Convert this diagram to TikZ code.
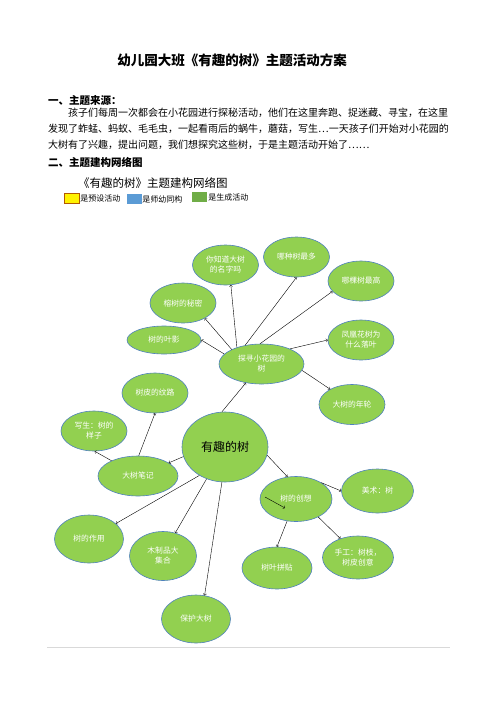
\documentclass[tikz,border=0pt]{standalone}
\usepackage{fontspec}
\setmainfont{Noto Sans CJK SC}
\usepackage{xcolor}
\usetikzlibrary{calc,shapes.geometric}
\definecolor{leafgreen}{HTML}{92D050}
\definecolor{rimblue}{HTML}{4F81BD}
\definecolor{keyblue}{HTML}{5B9BD5}
\definecolor{keygreen}{HTML}{70AD47}
\begin{document}
\begin{tikzpicture}[x=1pt,y=-1pt]
        \useasboundingbox (0,0) rectangle (496,702);
        \tikzstyle{every node}=[inner sep=0pt]
        \tikzstyle{bub}=[draw=rimblue,fill=leafgreen,ellipse,line width=0.6pt,text=white,align=center,font=\fontsize{7.8}{10}\selectfont]
        \tikzstyle{line}=[anchor=west,font=\fontsize{10}{12}\selectfont]
        \tikzstyle{head}=[anchor=west,font=\fontsize{10.5}{12}\selectfont\bfseries]
        \tikzstyle{key}=[anchor=west,font=\fontsize{8}{10}\selectfont]

        % page text
        \node[font=\fontsize{13.5}{16}\selectfont\bfseries] (0) at (232,60) {幼儿园大班《有趣的树》主题活动方案};
        \node[head] (h1) at (48,100) {一、主题来源：};
        \node[line] (p1) at (68,113) {孩子们每周一次都会在小花园进行探秘活动，他们在这里奔跑、捉迷藏、寻宝，在这里};
        \node[line] (p2) at (48,129) {发现了蚱蜢、蚂蚁、毛毛虫，一起看雨后的蜗牛，蘑菇，写生…一天孩子们开始对小花园的};
        \node[line] (p3) at (48,145) {大树有了兴趣，提出问题，我们想探究这些树，于是主题活动开始了……};
        \node[head] (h2) at (48,162) {二、主题建构网络图};
        \node[anchor=west,font=\fontsize{11.5}{14}\selectfont] (sub) at (78,183) {《有趣的树》主题建构网络图};

        % legend
        \node[draw=orange!70!black,fill=yellow,minimum width=15,minimum height=10] (k1) at (71.5,198) {};
        \node[key] (k1t) at ($(k1.east)+(1,0)$) {是预设活动};
        \node[fill=keyblue,minimum width=15,minimum height=10] (k2) at (134.5,199) {};
        \node[key] (k2t) at ($(k2.east)+(0,0)$) {是师幼同构};
        \node[fill=keygreen,minimum width=15,minimum height=10] (k3) at (199.5,197) {};
        \node[key] (k3t) at ($(k3.east)+(1,0)$) {是生成活动};

        % bubbles
        \node[bub,minimum width=86,minimum height=70,text=black,font=\fontsize{12}{14}\selectfont] (1) at (225,447) {有趣的树};
        \node[bub,minimum width=85,minimum height=40] (2) at (261.5,364) {探寻小花园的\\树};
        \node[bub,minimum width=66,minimum height=40] (3) at (225.5,265) {你知道大树\\的名字吗};
        \node[bub,minimum width=66,minimum height=40] (4) at (296.5,257) {哪种树最多};
        \node[bub,minimum width=66,minimum height=40] (5) at (361,281) {哪棵树最高};
        \node[bub,minimum width=66,minimum height=40] (6) at (361,340) {凤凰花树为\\什么落叶};
        \node[bub,minimum width=66,minimum height=40] (7) at (183,303) {榕树的秘密};
        \node[bub,minimum width=74,minimum height=28] (8) at (164,340) {树的叶影};
        \node[bub,minimum width=66,minimum height=40] (9) at (352,404.5) {大树的年轮};
        \node[bub,minimum width=66,minimum height=40] (10) at (155,393) {树皮的纹路};
        \node[bub,minimum width=66,minimum height=40] (11) at (94,431) {写生：树的\\样子};
        \node[bub,minimum width=80,minimum height=40] (12) at (138,476) {大树笔记};
        \node[bub,minimum width=72,minimum height=45] (13) at (296,499) {树的创想};
        \node[bub,minimum width=72,minimum height=44] (14) at (377.5,491) {美术：树};
        \node[bub,minimum width=70,minimum height=42] (15) at (277,568) {树叶拼贴};
        \node[bub,minimum width=71,minimum height=43] (16) at (358,557.5) {手工：树枝，\\树皮创意};
        \node[bub,minimum width=69,minimum height=48] (17) at (89,539) {树的作用};
        \node[bub,minimum width=67,minimum height=49] (18) at (163,556) {木制品大\\集合};
        \node[bub,minimum width=69,minimum height=48] (19) at (196,619) {保护大树};

        \draw[->] (2.146) to (3.-75);
        \draw[->] (2.131) to (4.south);
        \draw[->] (2.94) to (5.200);
        \draw[->] (2.28) to (6.west);
        \draw[->] (2.154) to (7.-35);
        \draw[->] (2.165) to (8.east);
        \draw[->] (2.-9) to (9.145);

        \draw[->] (1.95) to (2);
        \draw[->] (1.193) to (12);
        \draw[->] (1.-11) to (13.111);
        \draw[->] (1.228) to (17);
        \draw[->] (1.240) to (18.62);
        \draw[->] (1.265) to (19.70);

        \draw[->] (12.88) to (10.south);
        \draw[->] (12.150) to (11.-88);
        \draw[->] (13.33) to (14.west);
        \draw[->] (13.-39) to (16.133);
        \draw[->] (13.-112) to (15.north);

        \coordinate (a) at (265,497);
        \coordinate (b) at (285,508);
        \draw[->] (a) to (b);

        \draw[black!15] (47,647) -- (450,647);
    \end{tikzpicture}
\end{document}
